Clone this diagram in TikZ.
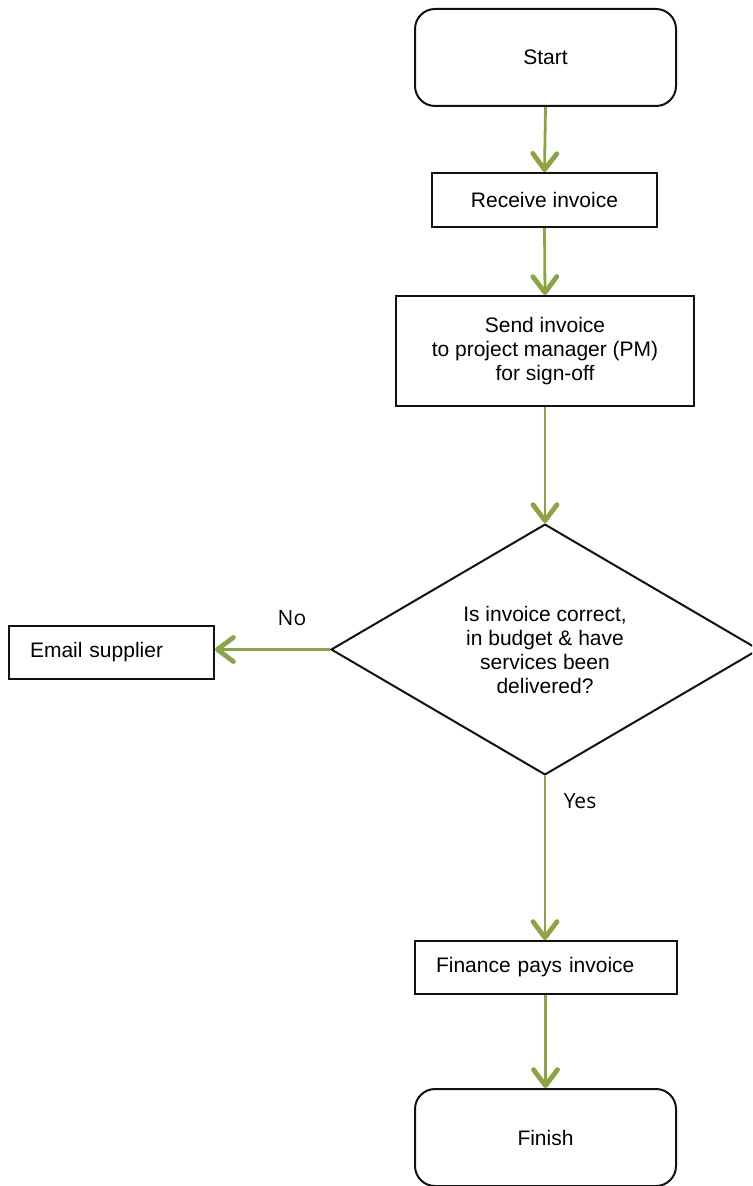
\documentclass[tikz,border=0pt]{standalone}
\usepackage{fontspec}
\setmainfont{Liberation Sans}
\newfontfamily\labelfont{Open Sans}
\usetikzlibrary{arrows.meta,shapes.geometric}
\definecolor{ink}{HTML}{111111}
\definecolor{leaf}{HTML}{8BA445}

\begin{document}
\begin{tikzpicture}[x=0.5pt,y=-0.5pt,font=\fontsize{10.5}{12}\selectfont,
  term/.style={draw=ink,line width=1pt,rounded corners=10pt,minimum width=130.5pt,minimum height=48.5pt,align=center},
  task/.style={draw=ink,line width=1pt,align=center,inner sep=0pt},
  lbox/.style={draw=ink,line width=1pt,align=left,inner xsep=10.5pt,inner ysep=0pt,minimum height=26.5pt},
  dec/.style={draw=ink,line width=1pt,diamond,inner sep=0pt,minimum width=214pt,minimum height=122.5pt,align=center},
  ar/.style={-{Straight Barb[length=8pt,width=12pt,line width=2.4pt,round]},line width=1.4pt,color=leaf},
  yn/.style={font=\labelfont\fontsize{10.5}{12}\selectfont}]
  \useasboundingbox (0,0) rectangle (752,1186);
  \clip (0,0) rectangle (752,1186);
  % main column at x = 545, the "no" branch goes left
  \node[term] (start) at (545.5,57.5) {Start};
  \node[task,minimum width=112.5pt,minimum height=27pt] (recv) at (544.5,200) {Receive invoice};
  \node[task,minimum width=149pt,minimum height=55pt] (send) at (545,351)
       {Send invoice\\to project manager (PM)\\for sign-off};
  \node[dec] (check) at (545,649.5)
       {Is invoice correct,\\in budget \& have\\services been\\delivered?};
  \node[lbox,text width=81.5pt] (mail) at (111.5,652.5) {Email supplier};
  \node[lbox,text width=110pt] (pay) at (546,967.5) {Finance pays invoice};
  \node[term] (finish) at (545.5,1137.5) {Finish};
  % branch labels
  \node[yn] (no)  at (292,618) {No};
  \node[yn] (yes) at (580,801) {Yes};
  % connectors
  \draw[ar] (start.south) -- (recv.north);
  \draw[ar] (recv.south) -- (send.north);
  \draw[ar] (send.south) -- (check.north);
  \draw[ar] (check.west) -- (check.west -| mail.east);
  \draw[ar] (check.south) -- (check.south |- pay.north);
  \draw[ar] (pay.south -| finish.north) -- (finish.north);
\end{tikzpicture}
\end{document}
